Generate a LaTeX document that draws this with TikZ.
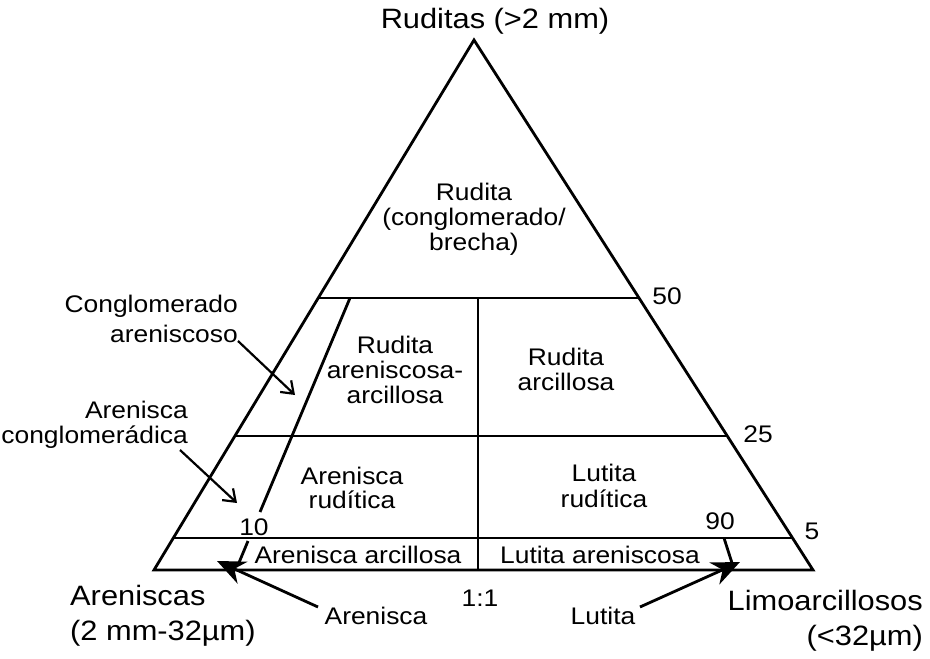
\documentclass[tikz,border=0pt]{standalone}
\usepackage{fontspec}
\setmainfont{Liberation Sans}[FakeStretch=1.1]
\usetikzlibrary{arrows.meta}
\begin{document}
\begin{tikzpicture}[x=1pt,y=-1pt,
  ln/.style={line width=2.8pt, line join=miter},
  txt/.style={inner sep=0pt, font=\fontsize{24}{25}\selectfont, align=center, anchor=base},
  bigtxt/.style={inner sep=0pt, font=\fontsize{28}{35}\selectfont},
  bigarrow/.style={line width=2.8pt, -{Stealth[length=28pt,width=24pt,inset=9pt]}},
  smallarrow/.style={line width=2.2pt, -{Straight Barb[length=11pt,width=16pt]}}]
\useasboundingbox (0,0) rectangle (930,659);
% triangle
\coordinate (A) at (474,40);
\coordinate (L) at (154,570);
\coordinate (R) at (813,570);
\draw[ln] (A) -- (L) -- (R) -- cycle;
% horizontal lines
\coordinate (h50l) at (318,298); \coordinate (h50r) at (639,298);
\coordinate (h25l) at (235,436); \coordinate (h25r) at (727,436);
\coordinate (h5l) at (173,538);  \coordinate (h5r) at (792,538);
\draw[ln] (h50l) -- (h50r);
\draw[ln] (h25l) -- (h25r);
\draw[ln] (h5l) -- (h5r);
% vertical 1:1
\coordinate (vt) at (478,298); \coordinate (vb) at (478,570);
\draw[ln] (vt) -- (vb);
% 10 line
\coordinate (t10a) at (350,298); \coordinate (t10b) at (260,512);
\coordinate (t10c) at (248,541); \coordinate (t10d) at (238,565);
\draw[ln] (t10a) -- (t10b);
\draw[ln] (t10c) -- (t10d);
% 90 line
\coordinate (t90a) at (724,538); \coordinate (t90b) at (732,563);
\draw[ln] (t90a) -- (t90b);
% titles
\node[bigtxt, anchor=base] (top) at (495,28) {Ruditas (>2 mm)};
\node[bigtxt, anchor=base west, align=left] (are) at (70,640) {Areniscas\\(2 mm-32µm)};
\node[bigtxt, anchor=base east, align=right] (limo) at (923,645) {Limoarcillosos\\(<32µm)};
% field labels
\node[txt] (rc) at (474,250) {Rudita\\(conglomerado/\\brecha)};
\node[txt] (raa) at (395,403) {Rudita\\areniscosa-\\arcillosa};
\node[txt] (ra) at (566,390) {Rudita\\arcillosa};
\node[txt, font=\fontsize{24}{24}\selectfont] (arr) at (352,508) {Arenisca\\rudítica};
\node[txt, font=\fontsize{24}{26}\selectfont] (lr) at (604,507) {Lutita\\rudítica};
\node[txt] (aa) at (358,563) {Arenisca arcillosa};
\node[txt] (la) at (600,563) {Lutita areniscosa};
\node[txt] (ratio) at (480,606) {1:1};
\node[txt] (aren) at (376,624) {Arenisca};
\node[txt] (lut) at (603,624) {Lutita};
\node[txt, anchor=base east, align=right, font=\fontsize{24}{30}\selectfont] (ca) at (238,342) {Conglomerado\\areniscoso};
\node[txt, anchor=base east, align=right] (ac) at (188,443) {Arenisca\\conglomerádica};
% numbers
\node[txt] (n50) at (667,304) {50};
\node[txt] (n25) at (758,442) {25};
\node[txt] (n5) at (812,539) {5};
\node[txt] (n90) at (720,529) {90};
\node[txt] (n10) at (254,535) {10};
% arrows
\coordinate (caS) at (238,341); \coordinate (caT) at (295,395);
\coordinate (acS) at (180,450); \coordinate (acT) at (237,503);
\coordinate (arS) at (318,607); \coordinate (arT) at (217,561);
\coordinate (luS) at (640,607); \coordinate (luT) at (740,562);
\draw[smallarrow] (caS) -- (caT);
\draw[smallarrow] (acS) -- (acT);
\draw[bigarrow] (arS) -- (arT);
\draw[bigarrow] (luS) -- (luT);
\end{tikzpicture}
\end{document}
